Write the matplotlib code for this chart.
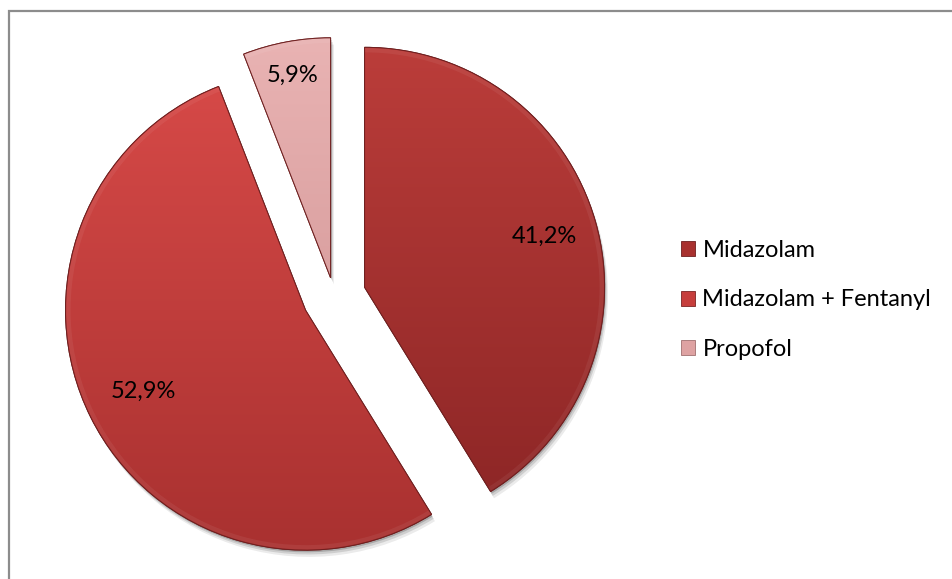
import numpy as np
import matplotlib.pyplot as plt
from matplotlib.patches import Rectangle, Wedge
from matplotlib.colors import LinearSegmentedColormap

# sedation groups and their shares (%)
labels = ['Midazolam', 'Midazolam + Fentanyl', 'Propofol']
shares = [41.2, 52.9, 5.9]

base_colors = ['#a8312f', '#c63e3c', '#dea2a2']
top_colors = ['#bb3d3a', '#d74a48', '#e9b3b3']
bottom_colors = ['#8b2525', '#a93130', '#cc8e8e']
explode = [0.1325, 0.1325, 0.077]
pct_dist = [0.78, 0.755, 0.86]

W, H = 952, 579
R = 240.0          # pie radius in pixels
cx, cy = 334, 296  # pie centre in pixels (from top-left)

fig = plt.figure(figsize=(W / 100, H / 100), dpi=100)
ax = fig.add_axes([0, 0, 1, 1])

wedges, texts, pcts = ax.pie(
    shares, explode=explode, colors=base_colors, startangle=90,
    counterclock=False, autopct=lambda p: f'{p:.1f}%'.replace('.', ','),
    wedgeprops=dict(edgecolor='#6e2020', linewidth=0.7),
    textprops=dict(fontsize=17, family='Lato', color='black'))

ax.set_aspect('auto')
ax.axis('off')

for w, t, d, c0, c1 in zip(wedges, pcts, pct_dist, top_colors, bottom_colors):
    x0, y0 = w.center
    # soft drop shadow
    for k, a in [(0.028, 0.08), (0.018, 0.12), (0.009, 0.18)]:
        sh = Wedge((x0 + k * 0.5, y0 - k), w.r, w.theta1, w.theta2,
                   facecolor='black', edgecolor='none', alpha=a, zorder=0.5)
        ax.add_patch(sh)
    # vertical gradient fill clipped to the slice
    cmap = LinearSegmentedColormap.from_list('g', [c1, c0])
    grad = np.linspace(0, 1, 256).reshape(-1, 1)
    im = ax.imshow(grad, cmap=cmap, origin='lower', aspect='auto',
                   extent=(x0 - 1, x0 + 1, y0 - 1, y0 + 1), zorder=1.5)
    im.set_clip_path(w)
    w.set_zorder(1)
    # faint bevel along the rim
    hl = Wedge((x0, y0), w.r * 0.997, w.theta1, w.theta2, width=0.018,
               facecolor='white', edgecolor='none', alpha=0.06, zorder=1.6)
    ax.add_patch(hl)
    edge = Wedge((x0, y0), w.r, w.theta1, w.theta2, facecolor='none',
                 edgecolor='#6e2020', linewidth=0.7, zorder=1.7)
    ax.add_patch(edge)
    th = np.deg2rad((w.theta1 + w.theta2) / 2)
    t.set_position((x0 + d * w.r * np.cos(th), y0 + d * w.r * np.sin(th)))
    t.set_zorder(3)

ax.set_xlim(-cx / R, (W - cx) / R)
ax.set_ylim(-(H - cy) / R, cy / R)

# chart area border (left and top edges)
fig.add_artist(Rectangle((8.5 / W, -0.1), 2.0, 1.1 - 10.5 / H, transform=fig.transFigure,
                         facecolor='none', edgecolor='#8c8c8c', linewidth=1.6))

handles = [Rectangle((0, 0), 1, 1, facecolor=c, edgecolor=e, linewidth=0.6)
           for c, e in zip(base_colors, ['#6e2020', '#7a2524', '#a07070'])]
fig.legend(handles, labels, loc='center left', bbox_to_anchor=(660 / W, 1 - 300 / H),
           frameon=False, handlelength=0.6, handleheight=0.6, handletextpad=0.3,
           labelspacing=1.2, prop=dict(family='Lato', size=17))

fig.savefig('out.png', dpi=100)
